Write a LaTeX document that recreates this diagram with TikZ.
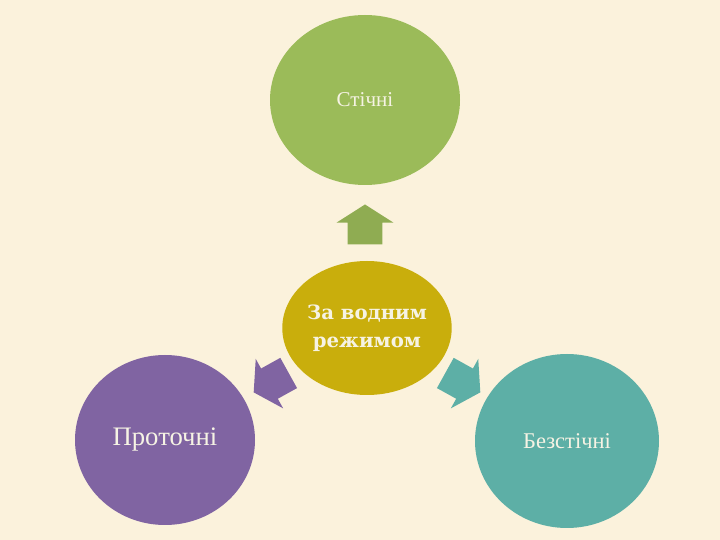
\documentclass[tikz,border=0pt]{standalone}
\usepackage{fontspec}
\setmainfont{Liberation Serif}
\newfontfamily\slabfont{DejaVu Serif}
\usepackage{tikz}
\usetikzlibrary{positioning,shapes.arrows,shapes.geometric}
\usepackage{xcolor}
\definecolor{bgcream}{RGB}{251,242,220}
\definecolor{leafgreen}{RGB}{155,187,89}
\definecolor{mustard}{RGB}{201,174,12}
\definecolor{lilac}{RGB}{128,100,162}
\definecolor{seateal}{RGB}{93,175,166}
\definecolor{paletext}{RGB}{246,243,228}

\begin{document}
\begin{tikzpicture}[
    blob/.style={ellipse,inner sep=0pt,text=paletext},
    blockarr/.style={single arrow,draw=none,inner xsep=0pt,inner ysep=0.425cm,
      minimum height=1cm,single arrow head extend=0.275cm,single arrow tip angle=115}]

      \fill[bgcream] (0,0) rectangle (18,13.5);

      \node[blob,fill=mustard,minimum width=4.2cm,minimum height=3.35cm,
        align=center,font=\slabfont\bfseries\fontsize{14}{20}\selectfont] (vodrezh) at (9.175,5.3) {За водним\\режимом};
      \node[blob,fill=leafgreen,minimum width=4.75cm,minimum height=4.25cm,
        font=\fontsize{15}{17}\selectfont] (stichni) at (9.125,11.0) {Стічні};
      \node[blob,fill=lilac,minimum width=4.5cm,minimum height=4.25cm,
        font=\fontsize{19}{22}\selectfont] (protochni) at (4.125,2.5) {Проточні};
      \node[blob,fill=seateal,minimum width=4.6cm,minimum height=4.35cm,
        font=\fontsize{16}{19}\selectfont] (bezstichni) at (14.175,2.475) {Безстічні};

      \node[blockarr,fill=leafgreen!92!black,rotate=90] (arrstich) at (9.125,7.75) {};
      \node[blockarr,fill=lilac,rotate=209] (arrprot) at (6.9,4.0) {};
      \node[blockarr,fill=seateal,rotate=331] (arrbez) at (11.45,4.0) {};
    \end{tikzpicture}
\end{document}
